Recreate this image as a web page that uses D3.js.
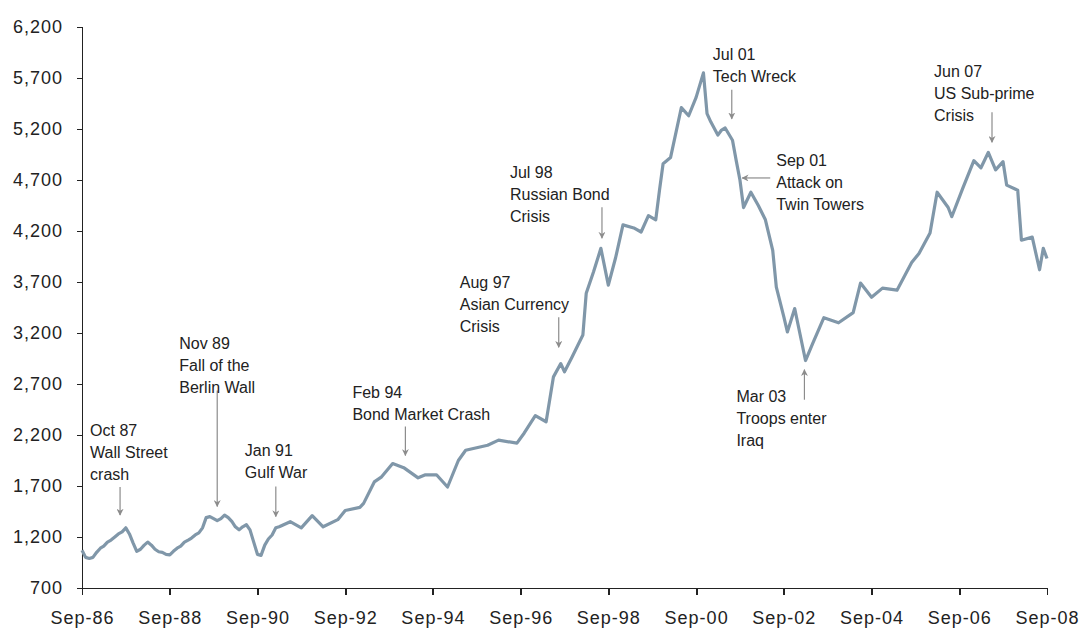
<!DOCTYPE html>
<html lang="en">
  <head>
    <meta charset="UTF-8">
    <title>Index since Sep-86 with crisis annotations</title>
    <style>
      body { margin: 0; background: #fff; }
      .line { fill: none; stroke: #8097a9; stroke-width: 3.2; stroke-linejoin: round; }
      .axis path, .axis line { stroke: #222; stroke-width: 1.8; shape-rendering: crispEdges; }
      .axis text { font-family: "Liberation Sans", Arial, sans-serif; font-size: 18px; fill: #222; letter-spacing: 1px; }
      .note text { font-family: "Liberation Sans", Arial, sans-serif; font-size: 16px; fill: #222; }
      .note line { stroke: #8c8c8c; stroke-width: 1.2; }
    </style>
    <script src="https://d3js.org/d3.v7.min.js"></script>
  </head>
  <body>
    <script>
      // ---- data ----
      const dates = [
        "1986-09","1986-10","1986-11","1986-12","1987-01","1987-02","1987-03","1987-04","1987-05","1987-06",
        "1987-07","1987-08","1987-09","1987-10","1987-11","1987-12","1988-01","1988-02","1988-03","1988-04",
        "1988-05","1988-06","1988-07","1988-08","1988-09","1988-10","1988-11","1988-12","1989-01","1989-02",
        "1989-03","1989-04","1989-05","1989-06","1989-07","1989-08","1989-09","1989-10","1989-11","1989-12",
        "1990-01","1990-02","1990-03","1990-04","1990-05","1990-06","1990-07","1990-08","1990-09","1990-10",
        "1990-11","1990-12","1991-01","1991-02","1991-03","1991-06","1991-09","1991-12","1992-03","1992-07",
        "1992-09","1993-01","1993-02","1993-05","1993-07","1993-10","1994-01","1994-05","1994-07","1994-10",
        "1995-01","1995-04","1995-06","1995-12","1996-03","1996-08","1996-10","1997-01","1997-04","1997-06",
        "1997-08","1997-09","1997-11","1998-02","1998-03","1998-05","1998-07","1998-09","1998-11","1999-01",
        "1999-04","1999-06","1999-08","1999-10","1999-11","1999-12","2000-02","2000-05","2000-07","2000-09",
        "2000-11","2000-12","2001-01","2001-03","2001-04","2001-05","2001-07","2001-08","2001-09","2001-10",
        "2001-12","2002-02","2002-04","2002-06","2002-07","2002-09","2002-10","2002-12","2003-03","2003-05",
        "2003-08","2003-12","2004-04","2004-06","2004-09","2004-12","2005-04","2005-08","2005-10","2006-01",
        "2006-03","2006-06","2006-07","2006-10","2007-01","2007-03","2007-05","2007-07","2007-09","2007-10",
        "2008-01","2008-02","2008-05","2008-07","2008-08","2008-09"
      ];
      const values = [
        1070,1000,990,1000,1050,1090,1110,1150,1170,1200,
        1230,1250,1290,1230,1140,1060,1080,1120,1150,1120,
        1080,1055,1050,1030,1025,1060,1090,1110,1150,1170,
        1190,1220,1240,1290,1390,1400,1380,1360,1380,1415,
        1390,1350,1300,1270,1300,1320,1270,1150,1030,1020,
        1120,1180,1220,1290,1300,1350,1290,1410,1300,1370,
        1460,1490,1530,1740,1790,1920,1880,1780,1810,1810,
        1690,1950,2050,2100,2150,2120,2220,2390,2330,2770,
        2900,2820,2960,3180,3590,3800,4030,3670,3940,4260,
        4230,4190,4350,4310,4600,4860,4920,5410,5330,5510,
        5750,5350,5270,5140,5190,5210,5090,4890,4700,4430,
        4580,4450,4310,4010,3650,3360,3210,3440,2930,3100,
        3350,3300,3400,3690,3550,3640,3620,3890,3980,4180,
        4580,4430,4340,4620,4890,4820,4970,4800,4880,4650,
        4600,4110,4140,3820,4030,3930
      ];
      const yTicks = [700,1200,1700,2200,2700,3200,3700,4200,4700,5200,5700,6200];
      const xTicks = ["1986-09","1988-09","1990-09","1992-09","1994-09","1996-09",
                      "1998-09","2000-09","2002-09","2004-09","2006-09","2008-09"];

      const noteLines = [
        ["Oct 87", "Wall Street", "crash"],
        ["Nov 89", "Fall of the", "Berlin Wall"],
        ["Jan 91", "Gulf War"],
        ["Feb 94", "Bond Market Crash"],
        ["Aug 97", "Asian Currency", "Crisis"],
        ["Jul 98", "Russian Bond", "Crisis"],
        ["Jul 01", "Tech Wreck"],
        ["Sep 01", "Attack on", "Twin Towers"],
        ["Mar 03", "Troops enter", "Iraq"],
        ["Jun 07", "US Sub-prime", "Crisis"]
      ];
      const noteDates = ["1987-07-15","1989-10-01","1991-02-01","1994-01-15","1997-07-15",
                         "1998-07-10","2001-06-25","2001-09-20","2003-02-20","2007-06-01"];
      const noteValues = [1415,1500,1400,2000,3060,4130,5300,4720,2840,5070];

      // ---- layout ----
      const W = 1084, H = 637;
      const margin = { top: 27, right: 37, bottom: 49, left: 82 };
      const width = W - margin.left - margin.right;
      const height = H - margin.top - margin.bottom;

      // arrow direction, arrow length, text offset from tip
      const noteLayout = [
        { dir: "down", len: 28, dx: -30, dy: -85 },
        { dir: "down", len: 116, dx: -38, dy: -163 },
        { dir: "down", len: 30, dx: -31, dy: -66 },
        { dir: "down", len: 29, dx: -53, dy: -63 },
        { dir: "down", len: 30, dx: -99, dy: -65 },
        { dir: "down", len: 31, dx: -92, dy: -66 },
        { dir: "down", len: 29, dx: -19, dy: -64 },
        { dir: "left", len: 28, dx: 34, dy: -18 },
        { dir: "up", len: 30, dx: -68, dy: 27 },
        { dir: "down", len: 30, dx: -58, dy: -71 }
      ];

      const parseMonth = d3.timeParse("%Y-%m");
      const parseDay = d3.timeParse("%Y-%m-%d");

      const data = dates.map((d, i) => ({ date: parseMonth(d), value: values[i] }));

      const svg = d3.select("body")
        .append("svg")
        .attr("width", W)
        .attr("height", H)
        .append("g")
        .attr("transform", `translate(${margin.left},${margin.top})`);

      const x = d3.scaleTime()
        .domain([parseMonth("1986-09"), parseMonth("2008-09")])
        .range([0, width]);

      const y = d3.scaleLinear()
        .domain([700, 6200])
        .range([height, 0]);

      svg.append("g")
        .attr("class", "axis axis-x")
        .attr("transform", `translate(0,${height})`)
        .call(d3.axisBottom(x)
          .tickValues(xTicks.map(parseMonth))
          .tickFormat(d3.timeFormat("%b-%y"))
          .tickSize(7)
          .tickSizeOuter(0)
          .tickPadding(16));

      svg.append("g")
        .attr("class", "axis axis-y")
        .call(d3.axisLeft(y)
          .tickValues(yTicks)
          .tickFormat(d3.format(","))
          .tickSize(5)
          .tickSizeOuter(5)
          .tickPadding(14));

      const line = d3.line()
        .x(d => x(d.date))
        .y(d => y(d.value));

      svg.append("path")
        .datum(data)
        .attr("class", "line")
        .attr("d", line);

      svg.append("defs").append("marker")
        .attr("id", "head")
        .attr("viewBox", "0 0 10 10")
        .attr("refX", 9)
        .attr("refY", 5)
        .attr("markerWidth", 7)
        .attr("markerHeight", 7)
        .attr("markerUnits", "userSpaceOnUse")
        .attr("orient", "auto")
        .append("path")
        .attr("d", "M0,0 L10,5 L0,10 L3,5 z")
        .attr("fill", "#8c8c8c");

      const notes = noteLines.map((lines, i) => ({
        lines,
        tx: x(parseDay(noteDates[i])),
        ty: y(noteValues[i]),
        ...noteLayout[i]
      }));

      const note = svg.selectAll(".note")
        .data(notes)
        .enter()
        .append("g")
        .attr("class", "note");

      note.append("line")
        .attr("x1", d => d.dir === "left" ? d.tx + d.len : d.tx)
        .attr("y1", d => d.dir === "down" ? d.ty - d.len : d.dir === "up" ? d.ty + d.len : d.ty)
        .attr("x2", d => d.tx)
        .attr("y2", d => d.ty)
        .attr("marker-end", "url(#head)");

      note.append("text")
        .selectAll("tspan")
        .data(d => d.lines.map((t, k) => ({ t, k, d })))
        .enter()
        .append("tspan")
        .attr("x", o => o.d.tx + o.d.dx)
        .attr("y", o => o.d.ty + o.d.dy + o.k * 22)
        .attr("dy", "0.35em")
        .text(o => o.t);
    </script>
  </body>
</html>
